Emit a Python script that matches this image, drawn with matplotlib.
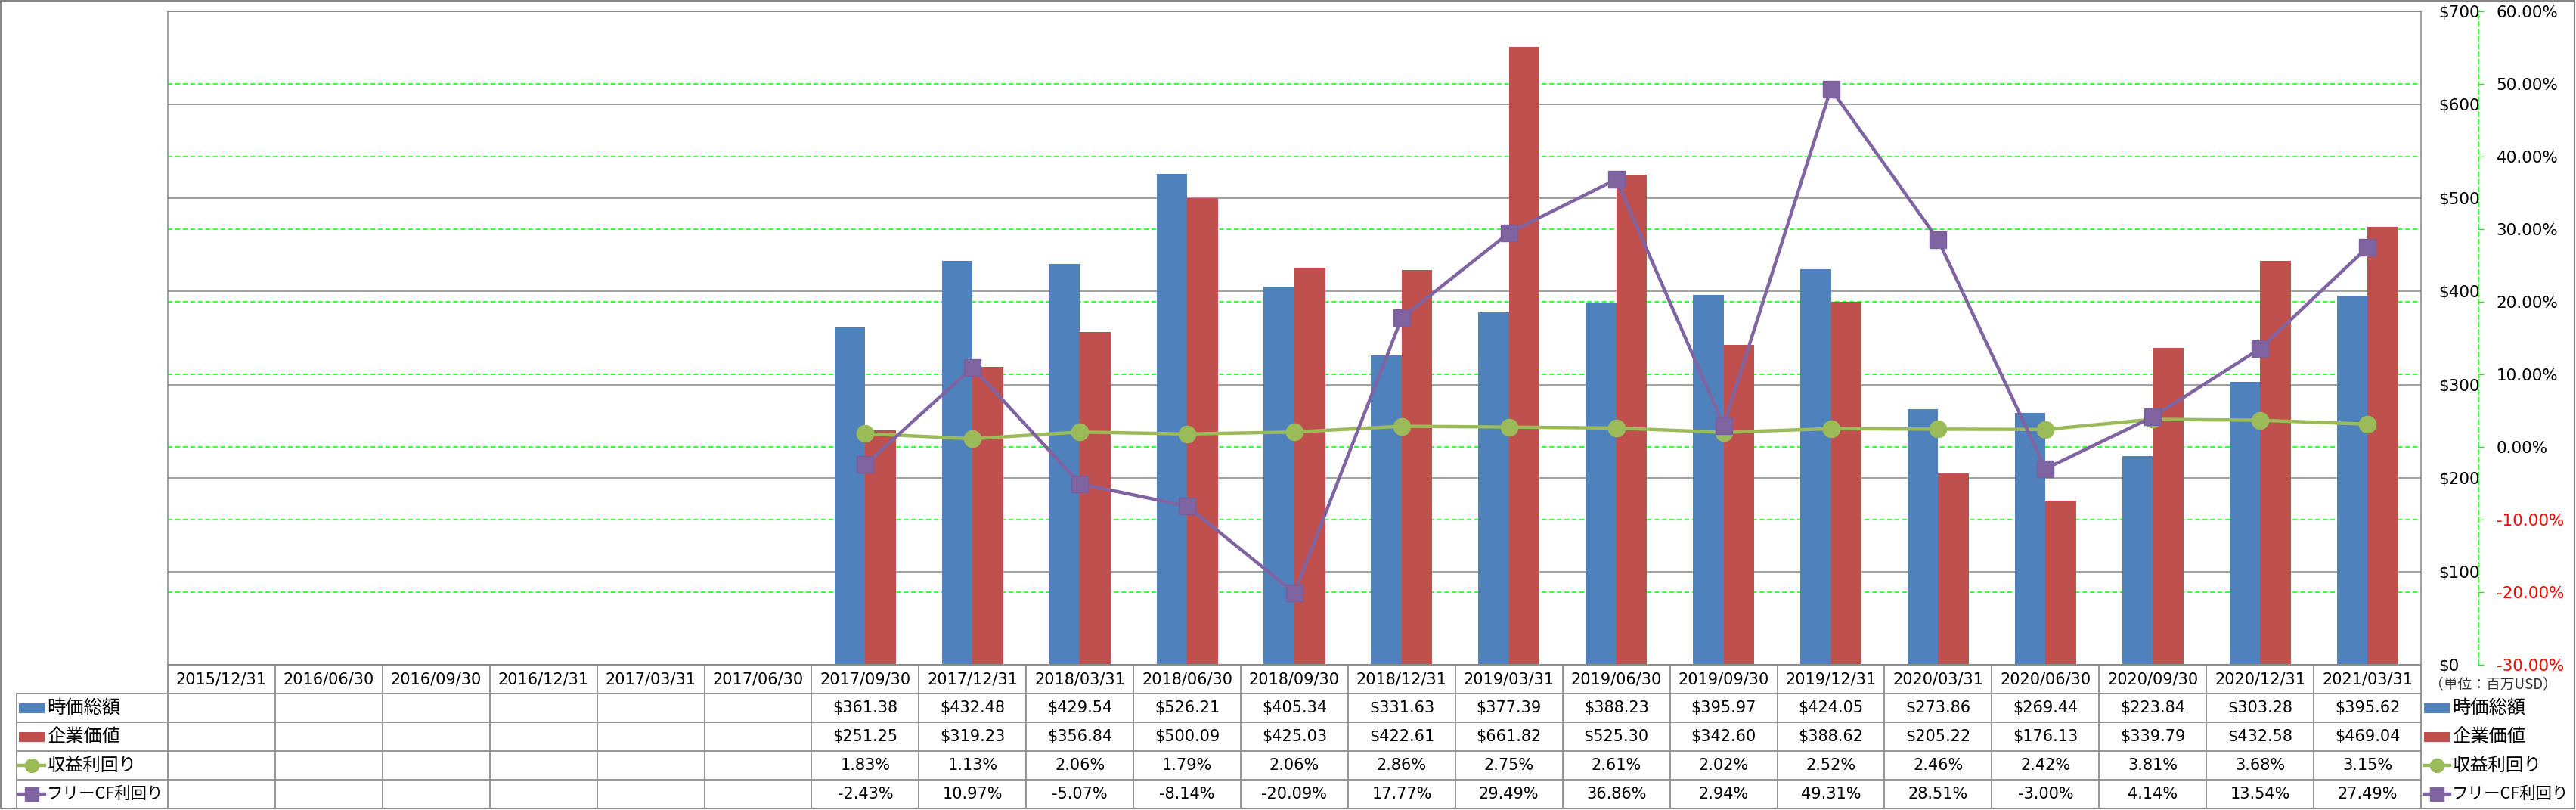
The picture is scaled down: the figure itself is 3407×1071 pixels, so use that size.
import matplotlib
matplotlib.use("Agg")
import matplotlib.pyplot as plt
import matplotlib.transforms as mtransforms
from matplotlib.patches import Rectangle
from matplotlib.ticker import FuncFormatter
import numpy as np

plt.rcParams['font.family'] = ['DejaVu Sans', 'Noto Sans CJK JP']

dates = ["2015/12/31", "2016/06/30", "2016/09/30", "2016/12/31", "2017/03/31", "2017/06/30",
         "2017/09/30", "2017/12/31", "2018/03/31", "2018/06/30", "2018/09/30", "2018/12/31",
         "2019/03/31", "2019/06/30", "2019/09/30", "2019/12/31", "2020/03/31", "2020/06/30",
         "2020/09/30", "2020/12/31", "2021/03/31"]
nan = np.nan
mcap = [nan] * 6 + [361.38, 432.48, 429.54, 526.21, 405.34, 331.63, 377.39, 388.23,
                    395.97, 424.05, 273.86, 269.44, 223.84, 303.28, 395.62]
ev = [nan] * 6 + [251.25, 319.23, 356.84, 500.09, 425.03, 422.61, 661.82, 525.30,
                  342.60, 388.62, 205.22, 176.13, 339.79, 432.58, 469.04]
earn_yield = [nan] * 6 + [1.83, 1.13, 2.06, 1.79, 2.06, 2.86, 2.75, 2.61,
                          2.02, 2.52, 2.46, 2.42, 3.81, 3.68, 3.15]
fcf_yield = [nan] * 6 + [-2.43, 10.97, -5.07, -8.14, -20.09, 17.77, 29.49, 36.86,
                         2.94, 49.31, 28.51, -3.00, 4.14, 13.54, 27.49]
names = ["時価総額", "企業価値", "収益利回り", "フリーCF利回り"]
name_sizes = [17.5, 17.5, 17, 15.5]

c_blue, c_red, c_green, c_purple = '#4F81BD', '#C0504D', '#9BBB59', '#8064A2'
c_grid = '#868686'
c_lime = '#00FF00'

W, H = 3407, 1071
fig = plt.figure(figsize=(W / 100, H / 100), dpi=100)

# main plot area
ax = fig.add_axes([222 / W, 1 - 879 / H, (3202 - 222) / W, (879 - 15) / H])
x = np.arange(len(dates))
ax.set_xlim(-0.5, len(dates) - 0.5)
ax.set_ylim(0, 700)
bw = 0.2857
ax.bar(x - bw / 2, mcap, bw, color=c_blue, zorder=2)
ax.bar(x + bw / 2, ev, bw, color=c_red, zorder=2)
ax.set_xticks([])
ax.set_yticks(range(0, 701, 100))
ax.yaxis.set_major_formatter(FuncFormatter(lambda v, p: '$%d' % v))
ax.grid(axis='y', color=c_grid, lw=1.1)
ax.set_axisbelow(True)
for s in ax.spines.values():
    s.set_color(c_grid)
    s.set_linewidth(1.1)

# secondary % axis
ax2 = ax.twinx()
ax.yaxis.tick_right()
ax.tick_params(axis='y', length=0, pad=16.5, labelsize=15.5, left=False, labelleft=False,
               right=False, labelright=True)
ax2.set_ylim(-30, 60)
ax2.set_yticks(range(-30, 61, 10))
ax2.yaxis.set_major_formatter(FuncFormatter(lambda v, p: '%.2f%%' % v))
for k in ['left', 'top', 'bottom']:
    ax2.spines[k].set_visible(False)
ax2.spines['right'].set_position(('outward', 54.7))
ax2.spines['right'].set_color(c_lime)
ax2.spines['right'].set_linestyle((0, (4, 2.5)))
ax2.spines['right'].set_linewidth(1.1)
ax2.tick_params(axis='y', length=5, width=1, color=c_lime, pad=12, labelsize=15.5)
for v, lab in zip(ax2.get_yticks(), ax2.get_yticklabels()):
    if v < 0:
        lab.set_color('#FF0000')

# % gridlines behind the bars
trans = mtransforms.blended_transform_factory(ax.transAxes, ax2.transData)
for v in ax2.get_yticks()[1:-1]:
    ax.plot([0, 1], [v, v], transform=trans, color=c_lime, lw=1.1,
            ls=(0, (4, 2.5)), zorder=0.8)

ax2.plot(x, earn_yield, color=c_green, lw=3.2, marker='o', ms=16, zorder=3)
ax2.plot(x, fcf_yield, color=c_purple, lw=3.2, marker='s', ms=15.5, zorder=4,
         markeredgecolor='#7A5E9C')

# overlay in pixel coordinates for the data table and legend
ov = fig.add_axes([0, 0, 1, 1])
ov.set_xlim(0, W)
ov.set_ylim(H, 0)
ov.axis('off')
bt = mtransforms.blended_transform_factory(ax.transData, ov.transData)

rows_y = [879, 917, 955, 993, 1031, 1069]
lc = '#8C8C8C'
ov.plot([-0.5, len(dates) - 0.5], [879, 879], transform=bt, color=lc, lw=1.3)
for y in rows_y[1:]:
    ov.plot([22, 223], [y, y], color=lc, lw=1.3)
    ov.plot([-0.5, len(dates) - 0.5], [y, y], transform=bt, color=lc, lw=1.3)
for k in range(len(dates) + 1):
    ov.plot([k - 0.5, k - 0.5], [879, 1069], transform=bt, color=lc, lw=1.3)
ov.plot([22, 22], [917, 1069], color=lc, lw=1.3)

mid = [(rows_y[i] + rows_y[i + 1]) / 2 for i in range(5)]
for i, d in enumerate(dates):
    ov.text(i, mid[0], d, transform=bt, ha='center', va='center', fontsize=15)
    if not np.isnan(mcap[i]):
        ov.text(i, mid[1], '$%.2f' % mcap[i], transform=bt, ha='center', va='center', fontsize=15)
        ov.text(i, mid[2], '$%.2f' % ev[i], transform=bt, ha='center', va='center', fontsize=15)
        ov.text(i, mid[3], '%.2f%%' % earn_yield[i], transform=bt, ha='center', va='center', fontsize=15)
        ov.text(i, mid[4], '%.2f%%' % fcf_yield[i], transform=bt, ha='center', va='center', fontsize=15)


def key(x0, x1, y, kind, color, marker=None):
    if kind == 'bar':
        ov.add_patch(Rectangle((x0, y - 6.5), x1 - x0, 13, color=color, lw=0))
    else:
        ov.plot([x0, x1], [y, y], color=color, lw=3.2)
        ov.plot([(x0 + x1) / 2], [y], marker=marker, ms=13, color=color, lw=0)


kinds = [('bar', c_blue, None), ('bar', c_red, None), ('line', c_green, 'o'), ('line', c_purple, 's')]
for j, (kd, col, mk) in enumerate(kinds):
    y = mid[j + 1]
    key(25, 59, y, kd, col, mk)
    ov.text(62, y, names[j], ha='left', va='center', fontsize=name_sizes[j], family='Noto Sans CJK JP')
    key(3206, 3240, y, kd, col, mk)
    ov.text(3243, y, names[j], ha='left', va='center', fontsize=name_sizes[j], family='Noto Sans CJK JP')

ov.text(3297, 905, '（単位：百万USD）', ha='center', va='center', fontsize=13.5,
        family='Noto Sans CJK JP', color='#333333')

# outer chart border
ov.add_patch(Rectangle((1, 1), W - 3, H - 3, fill=False, ec=c_grid, lw=1.5))

fig.savefig('out.png', dpi=100)
